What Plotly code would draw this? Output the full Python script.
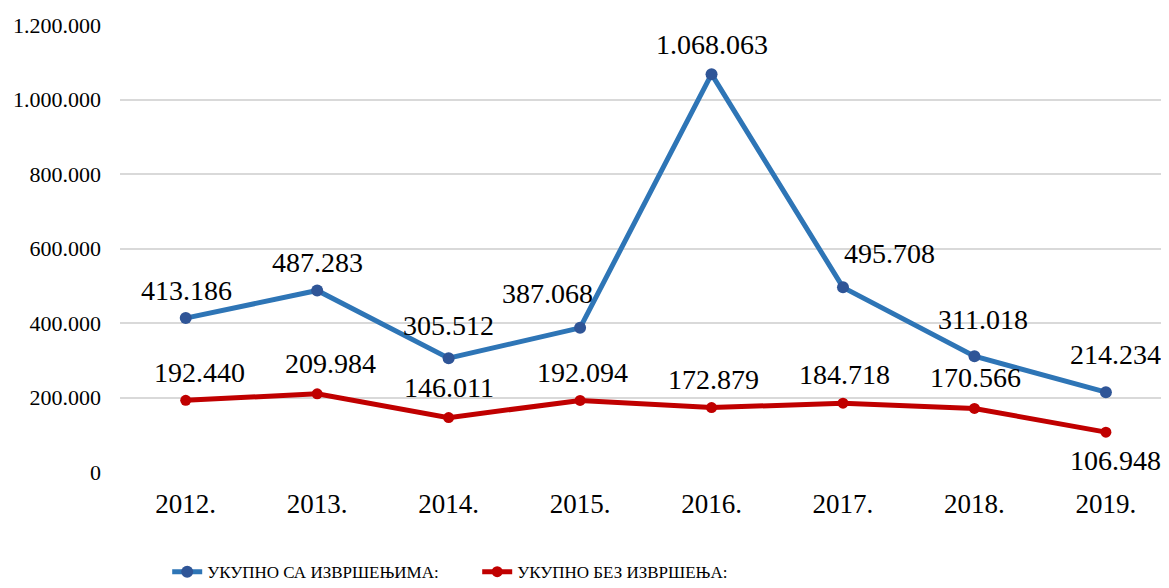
import plotly.graph_objects as go

years = ["2012.", "2013.", "2014.", "2015.", "2016.", "2017.", "2018.", "2019."]
sa_izvrsenjima = [413186, 487283, 305512, 387068, 1068063, 495708, 311018, 214234]
bez_izvrsenja = [192440, 209984, 146011, 192094, 172879, 184718, 170566, 106948]
name_sa = "УКУПНО СА ИЗВРШЕЊИМА:"
name_bez = "УКУПНО БЕЗ ИЗВРШЕЊА:"
y_ticks = [0, 200000, 400000, 600000, 800000, 1000000, 1200000]

# label offsets in pixels (xshift, yshift)
off_sa = [(1, 28), (0, 28), (0, 33), (-33, 34), (0, 30), (47, 34), (9, 37), (10, 38)]
off_bez = [(14, 28), (13, 30), (0, 30), (2, 28), (2, 28), (2, 29), (1, 31), (10, -28)]

FONT = "Liberation Serif, Times New Roman, serif"
BLUE_LINE = "#2E75B6"
BLUE_MARK = "#2F5597"
RED = "#C00000"

def fmt(v):
    return f"{v:,}".replace(",", ".")

fig = go.Figure()
fig.add_trace(go.Scatter(x=years, y=sa_izvrsenjima, name=name_sa, mode="lines+markers",
                         line=dict(color=BLUE_LINE, width=5),
                         marker=dict(color=BLUE_MARK, size=12)))
fig.add_trace(go.Scatter(x=years, y=bez_izvrsenja, name=name_bez, mode="lines+markers",
                         line=dict(color=RED, width=5),
                         marker=dict(color=RED, size=11)))

for series, offs in ((sa_izvrsenjima, off_sa), (bez_izvrsenja, off_bez)):
    for i, (v, (dx, dy)) in enumerate(zip(series, offs)):
        fig.add_annotation(x=i, y=v, xref="x", yref="y", text=fmt(v), showarrow=False,
                           xshift=dx, yshift=dy,
                           font=dict(family=FONT, size=28, color="black"))

fig.update_layout(
    width=1161, height=580,
    margin=dict(l=112, r=0, t=17, b=116, autoexpand=False),
    paper_bgcolor="white", plot_bgcolor="white",
    separators=",.",
    font=dict(family=FONT, color="black"),
    showlegend=True,
    legend=dict(orientation="h", x=0.045, xanchor="left", y=-0.224, yanchor="middle",
                font=dict(family=FONT, size=17), itemwidth=30, entrywidth=265),
    xaxis=dict(type="category", range=[-0.5, 7.48], showgrid=False, zeroline=False,
               showline=False, ticks="", tickfont=dict(family=FONT, size=27),
               ticklabelstandoff=13),
    yaxis=dict(range=[0, 1200000], tickvals=y_ticks, tickformat=",d",
               showgrid=True, gridcolor="#D9D9D9", gridwidth=1.5, zeroline=False,
               showline=False, ticks="", tickfont=dict(family=FONT, size=22),
               ticklabelstandoff=18),
)

fig.write_html("out.html")
